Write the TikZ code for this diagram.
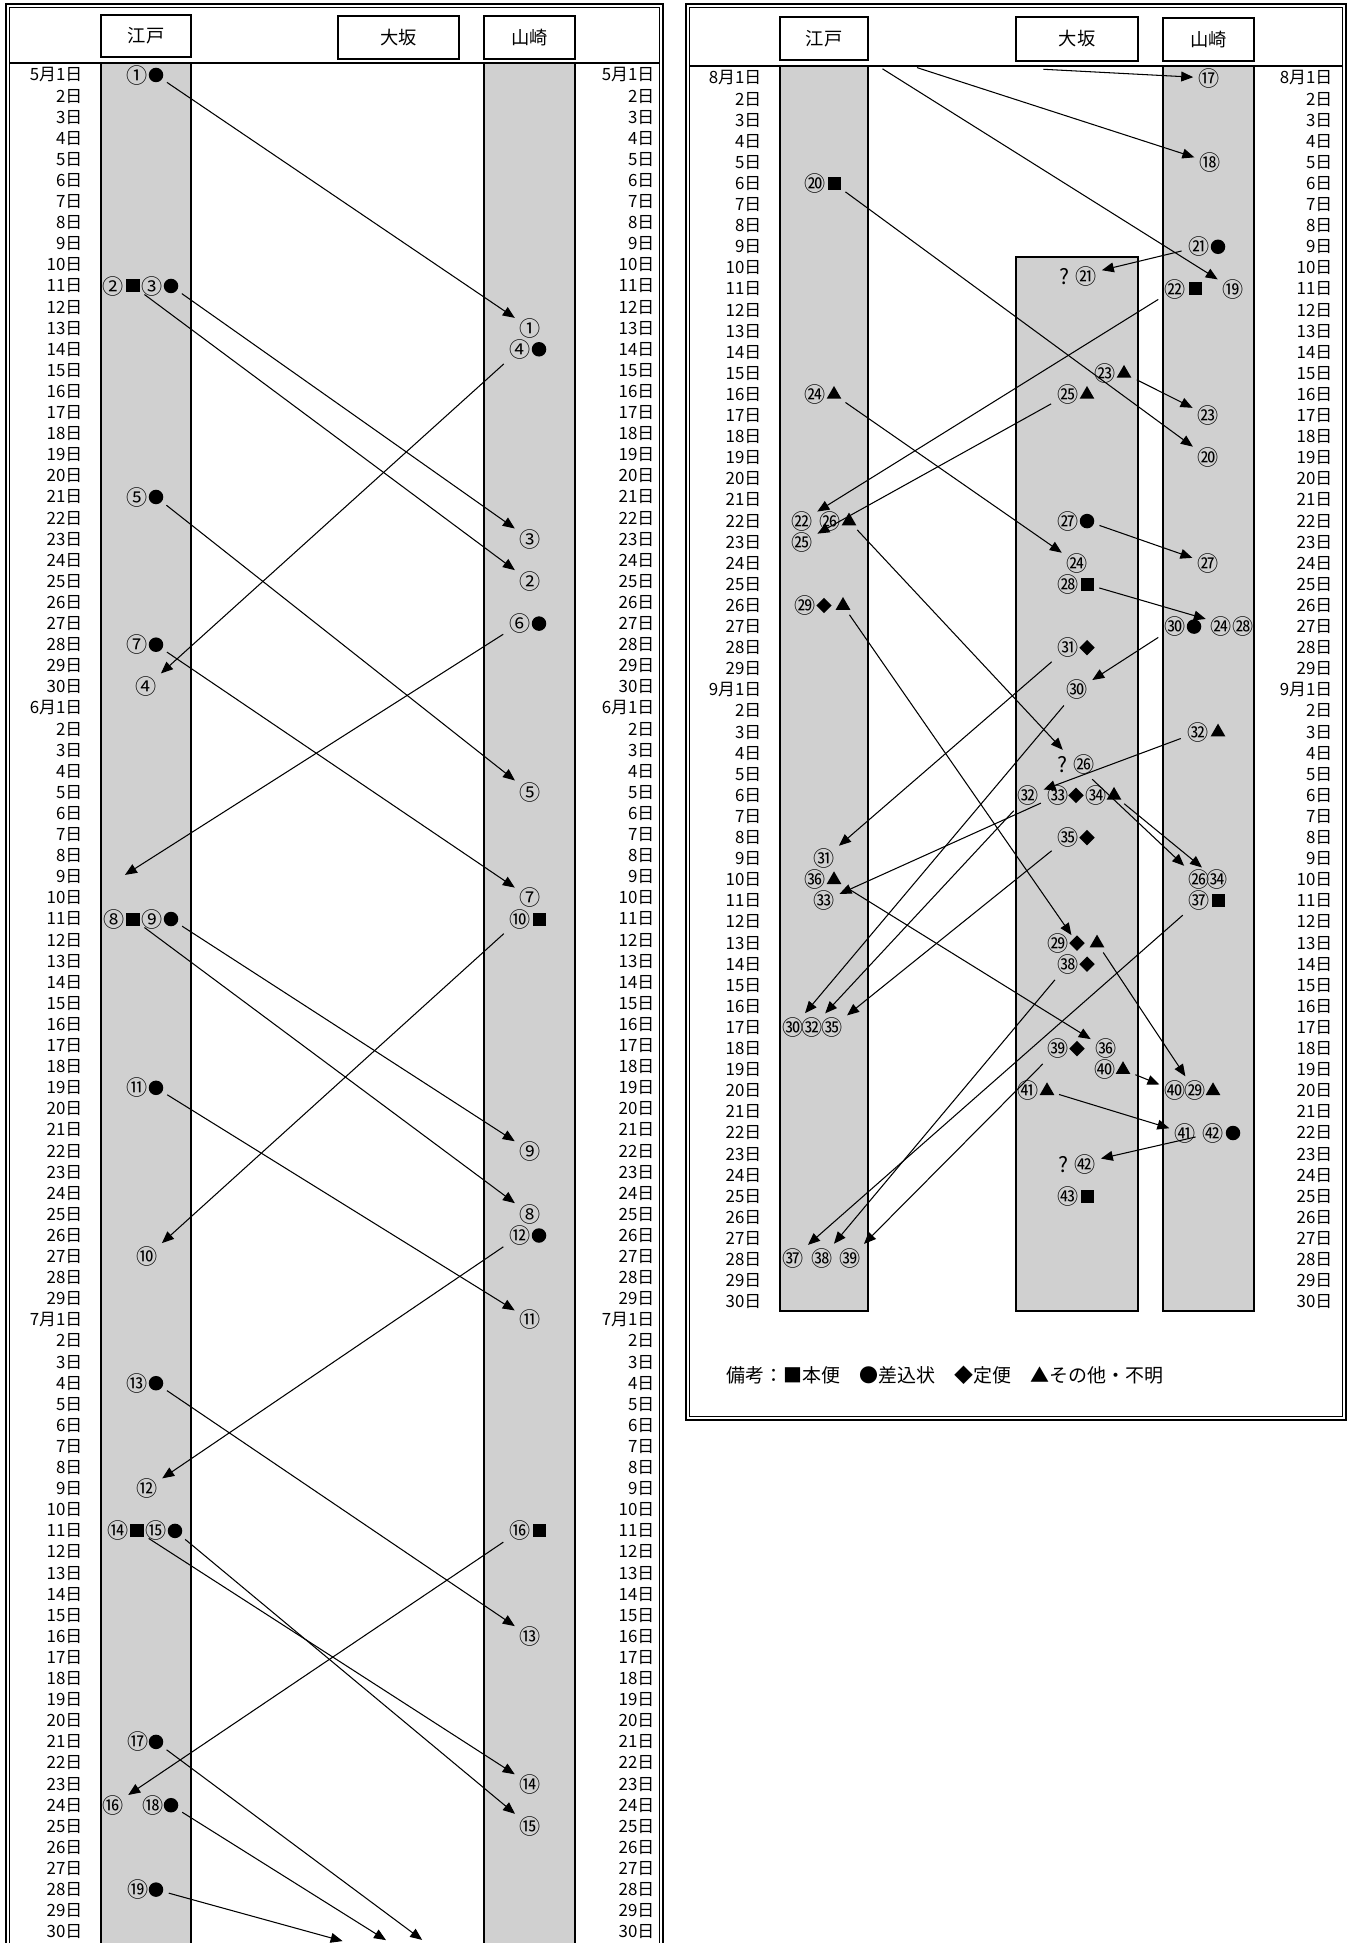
\documentclass[tikz,border=0pt]{standalone}
\usepackage{fontspec}
\setmainfont{Noto Sans CJK JP}
\usepackage{tikz}
\usetikzlibrary{arrows.meta}
\usetikzlibrary{shapes.geometric}

\definecolor{colgrey}{RGB}{208,208,208}
\newcommand{\datefont}{\fontsize{4.8pt}{5.2pt}\selectfont}
\newcommand{\numfont}{\fontsize{6pt}{6.5pt}\selectfont}
\newcommand{\headfont}{\fontsize{5.2pt}{6pt}\selectfont}
\newcommand{\legfont}{\fontsize{5.4pt}{6pt}\selectfont}
\newcommand{\dayL}[1]{75+21.1*#1}
\newcommand{\dayR}[1]{78+21.1*#1}

\begin{document}
\begin{tikzpicture}[x=0.01cm, y=-0.01cm,
  datel/.style={anchor=east, inner sep=0pt, font=\datefont},
  num/.style={inner sep=0.3pt, font=\numfont},
  mkc/.style={circle, fill=black, inner sep=0pt, minimum size=0.145cm},
  mks/.style={rectangle, fill=black, inner sep=0pt, minimum size=0.13cm},
  mkd/.style={diamond, fill=black, inner sep=0pt, minimum size=0.16cm},
  mkt/.style={regular polygon, regular polygon sides=3, fill=black, inner sep=0pt, minimum size=0.17cm},
  hbox/.style={draw, line width=0.6pt, inner sep=0pt, font=\headfont},
  col/.style={fill=colgrey, draw=black, line width=0.4pt},
  arr/.style={-{Triangle[length=3.4pt,width=2.8pt]}, line width=0.3pt, shorten >=1pt, shorten <=1.5pt}
]
  \useasboundingbox (0,0) rectangle (1353,1943);
  \clip (0,0) rectangle (1353,1943);

  % first sheet
  \draw[line width=0.6pt] (6,1990) -- (6,4) -- (663,4) -- (663,1990);
  \draw[line width=0.35pt] (9.5,1990) -- (9.5,7.5) -- (659.5,7.5) -- (659.5,1990);
  \draw[line width=0.4pt] (9.5,63) -- (659.5,63);
  \draw[col] (101,63) rectangle (191,1990);
  \draw[col] (484,63) rectangle (575,1990);
  \node[hbox, minimum width=0.9cm, minimum height=0.42cm] (hEdoL) at (146,36) {江戸};
  \node[hbox, minimum width=1.21cm, minimum height=0.43cm] (hOsakaL) at (398.5,37.5) {大坂};
  \node[hbox, minimum width=0.91cm, minimum height=0.43cm] (hYamaL) at (529.5,37.5) {山崎};

  \foreach \mo/\nd/\off in {5/30/0,6/29/30,7/30/59}{
    \foreach \d in {1,...,\nd}{
      \pgfmathsetmacro{\yy}{75+21.1*(\off+\d-1)}
      \ifnum\d=1
        \node[datel] (dL\mo-\d) at (83,\yy) {\mo 月1日};
        \node[datel] (dLr\mo-\d) at (655,\yy) {\mo 月1日};
      \else
        \node[datel] (dL\mo-\d) at (83,\yy) {\d 日};
        \node[datel] (dLr\mo-\d) at (655,\yy) {\d 日};
      \fi
    }
  }

  \node[num] (n1) at (137,{\dayL{0}}) {①};
  \node[mkc] (m1) at (156,{\dayL{0}}) {};
  \node[num] (n2) at (113,{\dayL{10}}) {②};
  \node[mks] (m2) at (133,{\dayL{10}}) {};
  \node[num] (n3) at (152,{\dayL{10}}) {③};
  \node[mkc] (m3) at (171,{\dayL{10}}) {};
  \node[num] (n5) at (137,{\dayL{20}}) {⑤};
  \node[mkc] (m5) at (156,{\dayL{20}}) {};
  \node[num] (n7) at (137,{\dayL{27}}) {⑦};
  \node[mkc] (m7) at (156,{\dayL{27}}) {};
  \node[num] (n8) at (114,{\dayL{40}}) {⑧};
  \node[mks] (m8) at (133,{\dayL{40}}) {};
  \node[num] (n9) at (152,{\dayL{40}}) {⑨};
  \node[mkc] (m9) at (171,{\dayL{40}}) {};
  \node[num] (n11) at (137,{\dayL{48}}) {⑪};
  \node[mkc] (m11) at (156,{\dayL{48}}) {};
  \node[num] (n13) at (137,{\dayL{62}}) {⑬};
  \node[mkc] (m13) at (156,{\dayL{62}}) {};
  \node[num] (n14) at (118,{\dayL{69}}) {⑭};
  \node[mks] (m14) at (137,{\dayL{69}}) {};
  \node[num] (n15) at (156,{\dayL{69}}) {⑮};
  \node[mkc] (m15) at (175,{\dayL{69}}) {};
  \node[num] (n17) at (138,{\dayL{79}}) {⑰};
  \node[mkc] (m17) at (156,{\dayL{79}}) {};
  \node[num] (n18) at (153,{\dayL{82}}) {⑱};
  \node[mkc] (m18) at (171,{\dayL{82}}) {};
  \node[num] (n19) at (138,{\dayL{86}}) {⑲};
  \node[mkc] (m19) at (156,{\dayL{86}}) {};

  \node[num] (n4) at (520,{\dayL{13}}) {④};
  \node[mkc] (m4) at (539,{\dayL{13}}) {};
  \node[num] (n6) at (520,{\dayL{26}}) {⑥};
  \node[mkc] (m6) at (539,{\dayL{26}}) {};
  \node[num] (n10) at (520,{\dayL{40}}) {⑩};
  \node[mks] (m10) at (539,{\dayL{40}}) {};
  \node[num] (n12) at (520,{\dayL{55}}) {⑫};
  \node[mkc] (m12) at (539,{\dayL{55}}) {};
  \node[num] (n16) at (520,{\dayL{69}}) {⑯};
  \node[mks] (m16) at (539,{\dayL{69}}) {};

  \node[num] (r1) at (530,{\dayL{12}}) {①};
  \node[num] (r3) at (530,{\dayL{22}}) {③};
  \node[num] (r2) at (530,{\dayL{24}}) {②};
  \node[num] (r4) at (146,{\dayL{29}}) {④};
  \node[num] (r5) at (530,{\dayL{34}}) {⑤};
  \coordinate (r6) at (122,{\dayL{38}});
  \node[num] (r7) at (530,{\dayL{39}}) {⑦};
  \node[num] (r9) at (530,{\dayL{51}}) {⑨};
  \node[num] (r8) at (530,{\dayL{54}}) {⑧};
  \node[num] (r10) at (147,{\dayL{56}}) {⑩};
  \node[num] (r11) at (530,{\dayL{59}}) {⑪};
  \node[num] (r12) at (147,{\dayL{67}}) {⑫};
  \node[num] (r13) at (530,{\dayL{74}}) {⑬};
  \node[num] (r14) at (530,{\dayL{81}}) {⑭};
  \node[num] (r15) at (530,{\dayL{83}}) {⑮};
  \node[num] (r16) at (113,{\dayL{82}}) {⑯};
  \coordinate (e17) at (425,1942);
  \coordinate (e18) at (389,1942);
  \coordinate (e19) at (346,1942);

  \draw[arr] (m1) -- (r1);
  \draw[arr] (m2) -- (r2);
  \draw[arr] (m3) -- (r3);
  \draw[arr] (n4) -- (r4);
  \draw[arr] (m5) -- (r5);
  \draw[arr] (n6) -- (r6);
  \draw[arr] (m7) -- (r7);
  \draw[arr] (m8) -- (r8);
  \draw[arr] (m9) -- (r9);
  \draw[arr] (n10) -- (r10);
  \draw[arr] (m11) -- (r11);
  \draw[arr] (n12) -- (r12);
  \draw[arr] (m13) -- (r13);
  \draw[arr] (m14) -- (r14);
  \draw[arr] (m15) -- (r15);
  \draw[arr] (n16) -- (r16);
  \draw[arr] (m17) -- (e17);
  \draw[arr] (m18) -- (e18);
  \draw[arr] (m19) -- (e19);

  % second sheet
  \draw[line width=0.6pt] (686,4) rectangle (1346,1420);
  \draw[line width=0.35pt] (689.5,7.5) rectangle (1342.5,1416.5);
  \draw[line width=0.4pt] (689.5,66) -- (1342.5,66);
  \draw[col] (780,66) rectangle (868,1311);
  \draw[col] (1016,257) rectangle (1138,1311);
  \draw[col] (1163,66) rectangle (1254,1311);
  \node[hbox, minimum width=0.88cm, minimum height=0.43cm] (hEdoR) at (824,38.5) {江戸};
  \node[hbox, minimum width=1.22cm, minimum height=0.44cm] (hOsakaR) at (1077,39) {大坂};
  \node[hbox, minimum width=0.91cm, minimum height=0.43cm] (hYamaR) at (1208.5,39.5) {山崎};

  \foreach \mo/\nd/\off in {8/29/0,9/30/29}{
    \foreach \d in {1,...,\nd}{
      \pgfmathsetmacro{\yy}{78+21.1*(\off+\d-1)}
      \ifnum\d=1
        \node[datel] (dR\mo-\d) at (762,\yy) {\mo 月1日};
        \node[datel] (dRr\mo-\d) at (1333,\yy) {\mo 月1日};
      \else
        \node[datel] (dR\mo-\d) at (762,\yy) {\d 日};
        \node[datel] (dRr\mo-\d) at (1333,\yy) {\d 日};
      \fi
    }
  }

  \node[num] (n20) at (815,{\dayR{5}}) {⑳};
  \node[mks] (m20) at (834,{\dayR{5}}) {};
  \node[num] (n24) at (815,{\dayR{15}}) {㉔};
  \node[mkt] (m24) at (834,{\dayR{15}}) {};
  \node[num] (n26) at (830,{\dayR{21}}) {㉖};
  \node[mkt] (m26) at (849,{\dayR{21}}) {};
  \node[num] (n29) at (805,{\dayR{25}}) {㉙};
  \node[mkd] (d29) at (824,{\dayR{25}}) {};
  \node[mkt] (m29) at (843,{\dayR{25}}) {};
  \node[num] (n36) at (815,{\dayR{38}}) {㊱};
  \node[mkt] (m36) at (834,{\dayR{38}}) {};

  \node[num] (r21) at (1078,276) {? ㉑};
  \node[num] (n23) at (1105,{\dayR{14}}) {㉓};
  \node[mkt] (m23) at (1124,{\dayR{14}}) {};
  \node[num] (n25) at (1068,{\dayR{15}}) {㉕};
  \node[mkt] (m25) at (1087,{\dayR{15}}) {};
  \node[num] (n27) at (1068,{\dayR{21}}) {㉗};
  \node[mkc] (m27) at (1087,{\dayR{21}}) {};
  \node[num] (r24) at (1077,{\dayR{23}}) {㉔};
  \node[num] (n28) at (1068,{\dayR{24}}) {㉘};
  \node[mks] (m28) at (1087,{\dayR{24}}) {};
  \node[num] (n31) at (1068,{\dayR{27}}) {㉛};
  \node[mkd] (m31) at (1087,{\dayR{27}}) {};
  \node[num] (r30) at (1077,{\dayR{29}}) {㉚};
  \node[num] (r26) at (1076,764) {? ㉖};
  \node[num] (r32) at (1028,{\dayR{34}}) {㉜};
  \node[num] (n33) at (1058,{\dayR{34}}) {㉝};
  \node[mkd] (m33) at (1076,{\dayR{34}}) {};
  \node[num] (n34) at (1096,{\dayR{34}}) {㉞};
  \node[mkt] (m34) at (1114,{\dayR{34}}) {};
  \node[num] (n35) at (1068,{\dayR{36}}) {㉟};
  \node[mkd] (m35) at (1087,{\dayR{36}}) {};
  \node[num] (r29) at (1058,{\dayR{41}}) {㉙};
  \node[mkd] (d29o) at (1077,{\dayR{41}}) {};
  \node[mkt] (m29o) at (1097,{\dayR{41}}) {};
  \node[num] (n38) at (1068,{\dayR{42}}) {㊳};
  \node[mkd] (m38) at (1087,{\dayR{42}}) {};
  \node[num] (n39) at (1058,{\dayR{46}}) {㊴};
  \node[mkd] (m39) at (1077,{\dayR{46}}) {};
  \node[num] (r36) at (1106,{\dayR{46}}) {㊱};
  \node[num] (n40) at (1105,{\dayR{47}}) {㊵};
  \node[mkt] (m40) at (1123,{\dayR{47}}) {};
  \node[num] (n41) at (1028,{\dayR{48}}) {㊶};
  \node[mkt] (m41) at (1047,{\dayR{48}}) {};
  \node[num] (r42) at (1077,1164) {? ㊷};
  \node[num] (n43) at (1068,{\dayR{53}}) {㊸};
  \node[mks] (m43) at (1087,{\dayR{53}}) {};

  \node[num] (r17) at (1209,{\dayR{0}}) {⑰};
  \node[num] (r18) at (1210,{\dayR{4}}) {⑱};
  \node[num] (n21) at (1199,{\dayR{8}}) {㉑};
  \node[mkc] (m21) at (1218,{\dayR{8}}) {};
  \node[num] (n22) at (1175,{\dayR{10}}) {㉒};
  \node[mks] (m22) at (1195,{\dayR{10}}) {};
  \node[num] (r19) at (1233,{\dayR{10}}) {⑲};
  \node[num] (r23) at (1208,{\dayR{16}}) {㉓};
  \node[num] (r20) at (1208,{\dayR{18}}) {⑳};
  \node[num] (r27) at (1208,{\dayR{23}}) {㉗};
  \node[num] (n30) at (1175,{\dayR{26}}) {㉚};
  \node[mkc] (m30) at (1194,{\dayR{26}}) {};
  \node[num] (r2428) at (1232,{\dayR{26}}) {㉔㉘};
  \node[num] (n32) at (1198,{\dayR{31}}) {㉜};
  \node[mkt] (m32) at (1218,{\dayR{31}}) {};
  \node[num] (r26y) at (1199,{\dayR{38}}) {㉖};
  \node[num] (r34) at (1217,{\dayR{38}}) {㉞};
  \node[num] (n37) at (1199,{\dayR{39}}) {㊲};
  \node[mks] (m37) at (1218,{\dayR{39}}) {};
  \node[num] (r40) at (1175,{\dayR{48}}) {㊵};
  \node[num] (r29y) at (1195,{\dayR{48}}) {㉙};
  \node[mkt] (t29y) at (1213,{\dayR{48}}) {};
  \node[num] (r41) at (1185,{\dayR{50}}) {㊶};
  \node[num] (n42) at (1213,{\dayR{50}}) {㊷};
  \node[mkc] (m42) at (1233,{\dayR{50}}) {};

  \node[num] (r22) at (802,{\dayR{21}}) {㉒};
  \node[num] (r25) at (802,{\dayR{22}}) {㉕};
  \node[num] (r31) at (824,{\dayR{37}}) {㉛};
  \node[num] (r33) at (824,{\dayR{39}}) {㉝};
  \node[num] (r30e) at (793,{\dayR{45}}) {㉚};
  \node[num] (r32e) at (812,{\dayR{45}}) {㉜};
  \node[num] (r35) at (832,{\dayR{45}}) {㉟};
  \node[num] (r37) at (793,1258) {㊲};
  \node[num] (r38) at (822,1258) {㊳};
  \node[num] (r39) at (850,1258) {㊴};
  \coordinate (t17) at (1038,69);
  \coordinate (t18) at (912,66);
  \coordinate (t19) at (878,66);

  \draw[arr] (t17) -- (r17);
  \draw[arr] (t18) -- (r18);
  \draw[arr] (t19) -- (r19);
  \draw[arr] (m20) -- (r20);
  \draw[arr] (n21) -- (r21);
  \draw[arr] (n22) -- (r22);
  \draw[arr] (m23) -- (r23);
  \draw[arr] (m24) -- (r24);
  \draw[arr] (n25) -- (r25);
  \draw[arr] (m26) -- (r26);
  \draw[arr] (r26) -- (r26y);
  \draw[arr] (m27) -- (r27);
  \draw[arr] (m28) -- (r2428);
  \draw[arr] (m29) -- (d29o);
  \draw[arr] (m29o) -- (r29y);
  \draw[arr] (n30) -- (r30);
  \draw[arr] (r30) -- (r30e);
  \draw[arr] (n31) -- (r31);
  \draw[arr] (n32) -- (r32);
  \draw[arr] (r32) -- (r32e);
  \draw[arr] (n33) -- (r33);
  \draw[arr] (m34) -- (r34);
  \draw[arr] (n35) -- (r35);
  \draw[arr] (m36) -- (r36);
  \draw[arr] (n37) -- (r37);
  \draw[arr] (n38) -- (r38);
  \draw[arr] (n39) -- (r39);
  \draw[arr] (m40) -- (r40);
  \draw[arr] (m41) -- (r41);
  \draw[arr] (n42) -- (r42);

  \node[anchor=west, inner sep=0pt, font=\legfont] (legend) at (726,1375) {備考：■本便\quad ●差込状\quad ◆定便\quad ▲その他・不明};
\end{tikzpicture}
\end{document}
